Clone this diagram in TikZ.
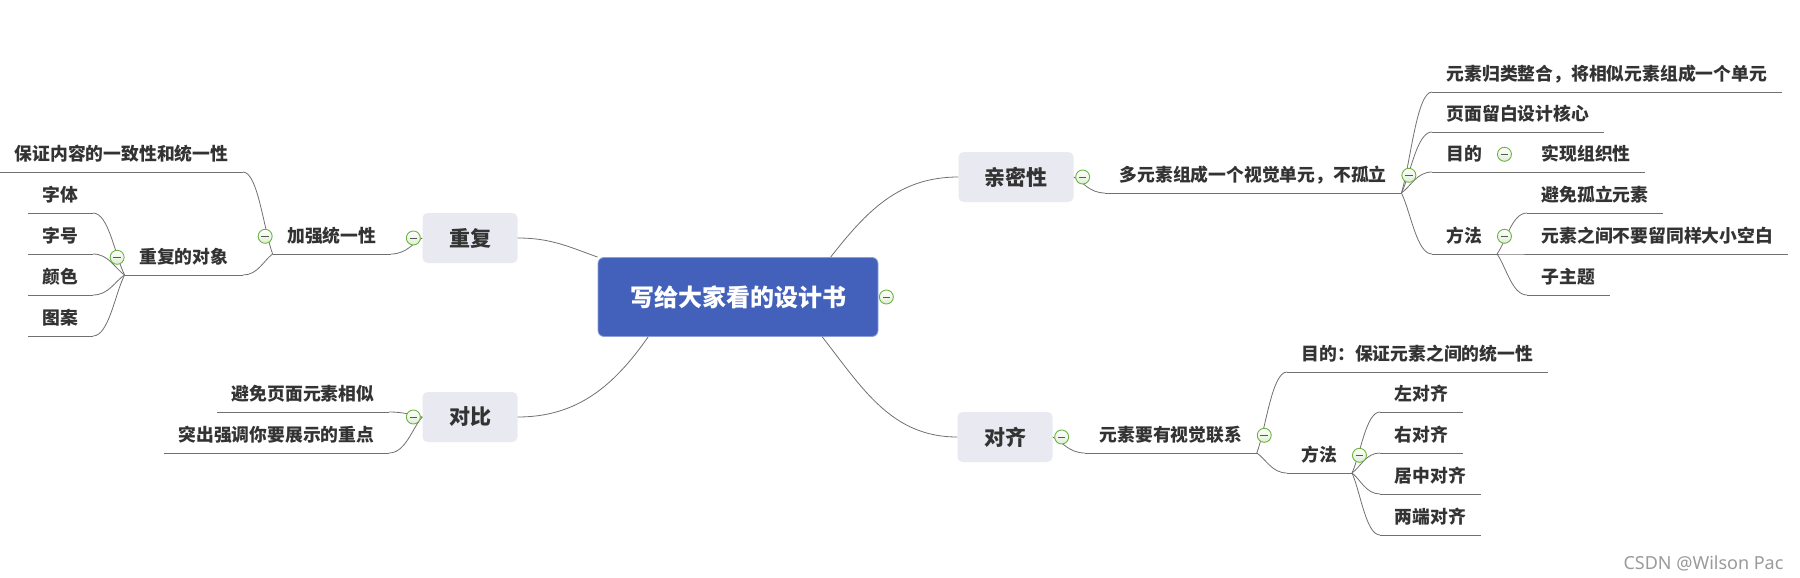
\documentclass[tikz,border=0pt]{standalone}
\usepackage{fontspec}
\setmainfont{Noto Sans CJK SC}
\newfontfamily\wmfont{Noto Sans}
\usepackage{tikz}
\usetikzlibrary{positioning,calc}
\definecolor{rootblue}{HTML}{4361BA}
\definecolor{rootedge}{HTML}{8C9FD9}
\definecolor{topicbg}{HTML}{E9E9F2}
\definecolor{linegray}{HTML}{707070}
\definecolor{txtgray}{HTML}{333333}
\definecolor{foldgreen}{HTML}{6DB33F}
\definecolor{wmgray}{HTML}{9A9A9A}

\begin{document}
\begin{tikzpicture}[x=1pt, y=-1pt, font=\bfseries, text=txtgray,
    root/.style={rectangle, rounded corners=6pt, fill=rootblue, draw=rootedge, line width=0.8pt,
      text=white, font=\fontsize{24}{28}\selectfont\bfseries, minimum width=280pt, minimum height=79pt},
    topic/.style={rectangle, rounded corners=5pt, fill=topicbg, font=\fontsize{21}{25}\selectfont\bfseries,
      minimum height=50pt, inner xsep=0pt},
    sub/.style={inner xsep=14.5pt, inner ysep=11pt, text height=13pt, text depth=0pt,
      font=\fontsize{17.8}{21}\selectfont\bfseries},
    conn/.style={draw=linegray, line width=0.8pt},
    branch/.style={to path={.. controls ($(\tikztostart)!0.3!(\tikztotarget)$)
      and ($(\tikztotarget)!0.5!(\tikztostart|-\tikztotarget)$) .. (\tikztotarget)}},
    fold/.style={circle, draw=foldgreen, line width=0.9pt, minimum size=14pt, inner sep=0pt,
      top color=white, bottom color=foldgreen!22,
      path picture={\draw[line width=0.9pt, black!65] ([xshift=-3.8pt]path picture bounding box.center)
        -- ([xshift=3.8pt]path picture bounding box.center);}}]
    \useasboundingbox (0,0) rectangle (1800,578);

    % Root and main topics
    \node[root] (root) at (738,297) {写给大家看的设计书};
    \node[topic, minimum width=95pt] (repeat) at (470,238) {重复};
    \node[topic, minimum width=95pt] (contrast) at (470,417) {对比};
    \node[topic, minimum width=115pt] (prox) at (1016,177) {亲密性};
    \node[topic, minimum width=95pt] (align) at (1005,437) {对齐};

    % Repeat branch
    \node[sub, anchor=south east] (unify) at (391,254) {加强统一性};
    \node[sub, anchor=south east] (keep) at (243,172) {保证内容的一致性和统一性};
    \node[sub, anchor=south east] (objects) at (243,275) {重复的对象};
    \foreach \n/\t/\y in {ofont/字体/213, osize/字号/254, ocolor/颜色/295, opattern/图案/336}
      \node[sub, anchor=south east] (\n) at (93,\y) {\t};

    % Contrast branch
    \node[sub, anchor=south east] (nosim) at (389,412) {避免页面元素相似};
    \node[sub, anchor=south east] (stress) at (389,453) {突出强调你要展示的重点};

    % Proximity branch
    \node[sub, anchor=south west] (multi) at (1105,193) {多元素组成一个视觉单元，不孤立};
    \node[sub, anchor=south west] (group) at (1432,92) {元素归类整合，将相似元素组成一个单元};
    \node[sub, anchor=south west] (white) at (1432,132) {页面留白设计核心};
    \node[sub, anchor=south west] (goal) at (1432,172) {目的};
    \node[sub, anchor=south west] (organize) at (1527,172) {实现组织性};
    \node[sub, anchor=south west] (method) at (1432,254) {方法};
    \node[sub, anchor=south west] (noisol) at (1527,213) {避免孤立元素};
    \node[sub, anchor=south west] (nospace) at (1527,254) {元素之间不要留同样大小空白};
    \node[sub, anchor=south west] (subtopic) at (1527,295) {子主题};

    % Align branch
    \node[sub, anchor=south west] (visual) at (1085,453) {元素要有视觉联系};
    \node[sub, anchor=south west] (purpose) at (1287,372) {目的：保证元素之间的统一性};
    \node[sub, anchor=south west] (amethod) at (1287,473) {方法};
    \foreach \n/\t/\y in {aleft/左对齐/412, aright/右对齐/453, acenter/居中对齐/494, ajust/两端对齐/535}
      \node[sub, anchor=south west] (\n) at (1380,\y) {\t};

    % Underlines
    \foreach \n in {unify,keep,objects,ofont,osize,ocolor,opattern,nosim,stress,multi,group,white,
      goal,organize,method,noisol,nospace,subtopic,visual,purpose,amethod,aleft,aright,acenter,ajust}
      \draw[conn] (\n.south west) -- (\n.south east);

    % Connectors from the root
    \draw[conn] (root.north west) to[out=160,in=0] (repeat.east);
    \draw[conn] ($(root.south west)!0.18!(root.south east)$) to[out=235,in=0] (contrast.east);
    \draw[conn] ($(root.north west)!0.83!(root.north east)$) to[out=52,in=180] (prox.west);
    \draw[conn] ($(root.south west)!0.8!(root.south east)$) to[out=-52,in=180] (align.west);

    % Connectors in the branches
    \draw[conn] (repeat.west) to[branch] (unify.south east);
    \foreach \n in {keep,objects}
      \draw[conn] (unify.south west) to[branch] (\n.south east);
    \foreach \n in {ofont,osize,ocolor,opattern}
      \draw[conn] (objects.south west) to[branch] (\n.south east);
    \foreach \n in {nosim,stress}
      \draw[conn] (contrast.west) to[branch] (\n.south east);
    \draw[conn] (prox.east) to[branch] (multi.south west);
    \foreach \n in {group,white,goal,method}
      \draw[conn] (multi.south east) to[branch] (\n.south west);
    \draw[conn] (goal.south east) -- (organize.south west);
    \foreach \n in {noisol,nospace,subtopic}
      \draw[conn] (method.south east) to[branch] (\n.south west);
    \draw[conn] (align.east) to[branch] (visual.south west);
    \foreach \n in {purpose,amethod}
      \draw[conn] (visual.south east) to[branch] (\n.south west);
    \foreach \n in {aleft,aright,acenter,ajust}
      \draw[conn] (amethod.south east) to[branch] (\n.south west);

    % Fold markers
    \node[fold, right=0.5pt of root] (froot) {};
    \node[fold, left=1.5pt of repeat] (frepeat) {};
    \node[fold, left=1.5pt of contrast] (fcontrast) {};
    \node[fold, right=1.5pt of prox] (fprox) {};
    \node[fold, right=1.5pt of align] (falign) {};
    \node[fold, left=0pt of unify] (funify) {};
    \node[fold, left=0pt of objects] (fobjects) {};
    \node[fold, right=0pt of multi] (fmulti) {};
    \node[fold, right=0pt of goal] (fgoal) {};
    \node[fold, right=0pt of method] (fmethod) {};
    \node[fold, right=0pt of visual] (fvisual) {};
    \node[fold, right=0pt of amethod] (famethod) {};

    % Watermark
    \node[font=\wmfont\fontsize{18}{20}\selectfont, text=wmgray, anchor=east] (mark) at (1787,563) {CSDN @Wilson Pac};
\end{tikzpicture}
\end{document}
